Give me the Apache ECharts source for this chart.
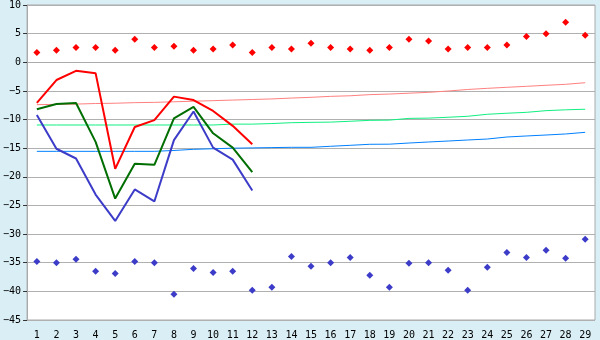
<!DOCTYPE html>
<html>
<head>
<meta charset="utf-8">
<script src="https://cdn.jsdelivr.net/npm/echarts@6/dist/echarts.min.js"></script>
<style>
html,body{margin:0;padding:0;background:#d9eef5;}
#chart{width:600px;height:340px;}
</style>
</head>
<body>
<div id="chart"></div>
<script>
var categories = ['1','2','3','4','5','6','7','8','9','10','11','12','13','14','15','16','17','18','19','20','21','22','23','24','25','26','27','28','29'];

var redDots = [1.7,2.1,2.6,2.6,2.1,4.0,2.6,2.8,2.1,2.3,3.0,1.7,2.6,2.3,3.3,2.6,2.3,2.1,2.6,4.0,3.7,2.3,2.6,2.6,3.0,4.5,5.0,7.0,4.7];
var blueDots = [-34.8,-35.0,-34.4,-36.5,-36.9,-34.8,-35.0,-40.5,-36.0,-36.7,-36.5,-39.8,-39.3,-33.9,-35.6,-35.0,-34.1,-37.2,-39.3,-35.1,-35.0,-36.3,-39.8,-35.8,-33.2,-34.1,-32.8,-34.2,-30.9];

var redLine = [-7.1,-3.1,-1.5,-1.9,-18.6,-11.3,-10.1,-6.0,-6.6,-8.5,-11.1,-14.3];
var greenLine = [-8.2,-7.3,-7.1,-13.9,-23.8,-17.7,-17.9,-9.8,-7.8,-12.4,-14.9,-19.2];
var blueLine = [-9.2,-15.1,-16.8,-23.1,-27.7,-22.2,-24.3,-13.6,-8.6,-14.9,-17.0,-22.4];

var pinkTrend = [-7.4,-7.35,-7.3,-7.2,-7.15,-7.05,-7.0,-6.9,-6.8,-6.7,-6.6,-6.5,-6.4,-6.25,-6.12,-5.95,-5.85,-5.65,-5.55,-5.4,-5.25,-5.02,-4.75,-4.55,-4.37,-4.2,-4.02,-3.85,-3.57];
var greenTrend = [-10.95,-10.95,-10.95,-10.95,-10.95,-10.95,-10.95,-10.95,-10.95,-10.95,-10.8,-10.8,-10.7,-10.55,-10.49,-10.45,-10.3,-10.14,-10.1,-9.8,-9.75,-9.6,-9.43,-9.08,-8.9,-8.74,-8.45,-8.3,-8.2];
var blueTrend = [-15.55,-15.55,-15.55,-15.55,-15.55,-15.55,-15.55,-15.4,-15.2,-15.1,-15.0,-14.95,-14.9,-14.85,-14.85,-14.67,-14.5,-14.32,-14.3,-14.1,-13.92,-13.75,-13.57,-13.4,-13.05,-12.87,-12.7,-12.52,-12.23];

var chart = echarts.init(document.getElementById('chart'), null, {renderer:'canvas'});
var font = 'DejaVu Sans Mono';
function lineSeries(data, color, width, z) {
  return {type:'line', data:data, symbol:'none', z:z,
    lineStyle:{color:color, width:width, opacity:1}, itemStyle:{color:color}};
}
function dotSeries(data, color) {
  return {type:'scatter', data:data, symbol:'diamond', symbolSize:7, z:5,
    itemStyle:{color:color, opacity:1}};
}
chart.setOption({
  animation:false,
  backgroundColor:'#d9eef5',
  grid:{left:26, right:5, top:5, bottom:20, show:true, backgroundColor:'#ffffff', borderColor:'#aaaaaa', borderWidth:1},
  xAxis:{type:'category', data:categories, boundaryGap:true,
    axisLine:{lineStyle:{color:'#aaaaaa'}},
    axisTick:{alignWithLabel:true, length:6, lineStyle:{color:'#333333'}},
    axisLabel:{color:'#000', fontFamily:font, fontSize:10, margin:10, interval:0},
    splitLine:{show:false}},
  yAxis:{type:'value', min:-45, max:10, interval:5,
    axisLine:{show:true, lineStyle:{color:'#aaaaaa'}},
    axisTick:{show:true, length:4, lineStyle:{color:'#333333'}},
    axisLabel:{color:'#000', fontFamily:font, fontSize:10, margin:6,
      formatter:function(v){return String(v).replace('-','\u2212');}},
    splitLine:{lineStyle:{color:'#b0b0b0', width:1}}},
  series:[
    lineSeries(pinkTrend,'#ff8080',1,2),
    lineSeries(greenTrend,'#10f080',1,2),
    lineSeries(blueTrend,'#0080ff',1,2),
    lineSeries(redLine,'#ff0000',2,3),
    lineSeries(greenLine,'#006e00',2,3),
    lineSeries(blueLine,'#3c3cc8',2,3),
    dotSeries(redDots,'#ff0000'),
    dotSeries(blueDots,'#3c3cc8')
  ]
});
</script>
</body>
</html>
